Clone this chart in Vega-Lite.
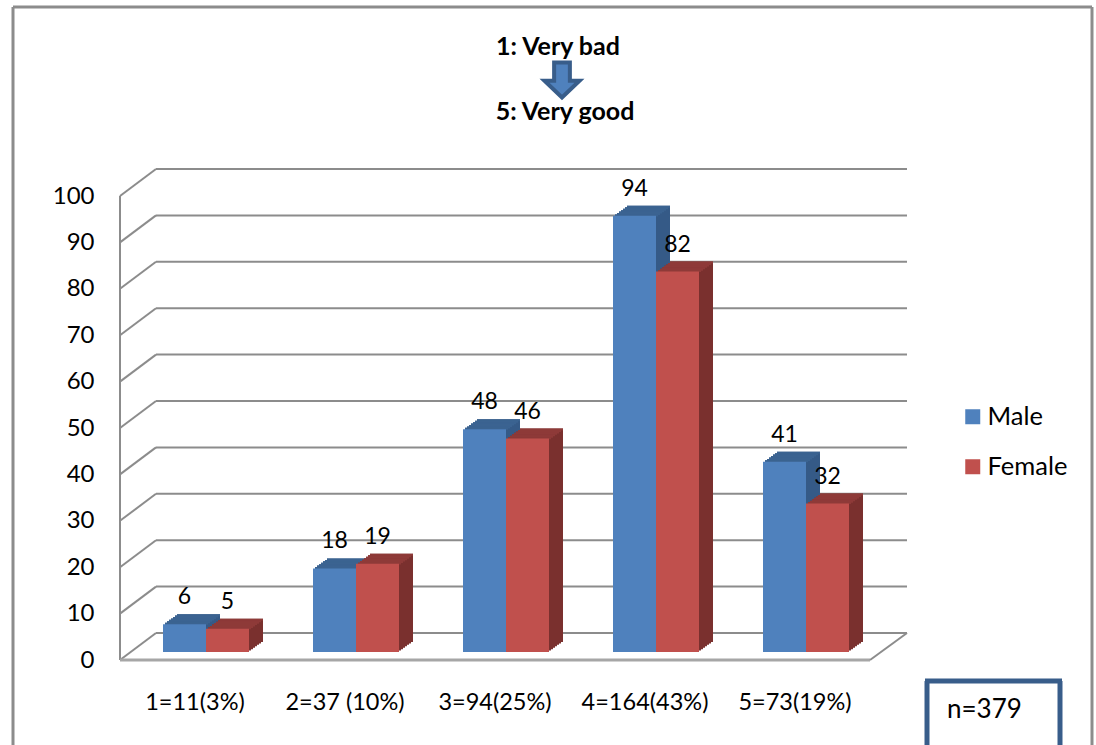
{"$schema":"https://vega.github.io/schema/vega-lite/v6.json","width":750,"height":464,"autosize":"none","padding":{"left":120,"top":188,"right":226,"bottom":93},"background":"white",
"config":{"view":{"stroke":null},"font":"Lato","legend":{"labelFont":"Lato"}},
"resolve":{"scale":{"xOffset":"independent"}},
"datasets":{"bars":[
{"cat":"1=11(3%)","series":"Male","value":6},{"cat":"1=11(3%)","series":"Female","value":5},
{"cat":"2=37 (10%)","series":"Male","value":18},{"cat":"2=37 (10%)","series":"Female","value":19},
{"cat":"3=94(25%)","series":"Male","value":48},{"cat":"3=94(25%)","series":"Female","value":46},
{"cat":"4=164(43%)","series":"Male","value":94},{"cat":"4=164(43%)","series":"Female","value":82},
{"cat":"5=73(19%)","series":"Male","value":41},{"cat":"5=73(19%)","series":"Female","value":32}],
"grid":[{"v":0},{"v":10},{"v":20},{"v":30},{"v":40},{"v":50},{"v":60},{"v":70},{"v":80},{"v":90},{"v":100}]},
"data":{"name":"bars"},
"encoding":{
"x":{"field":"cat","type":"nominal","sort":null,"title":null,"scale":{"domain":["1=11(3%)","2=37 (10%)","3=94(25%)","4=164(43%)","5=73(19%)"],"paddingInner":0,"paddingOuter":0},"axis":{"labelAngle":0,"labelFontSize":23.5,"labelColor":"#000","labelPadding":38,"domain":false,"ticks":false,"labelLimit":200,"labelFont":"Lato"}},
"y":{"field":"value","type":"quantitative","title":null,"scale":{"domain":[0,100],"nice":false},"axis":{"values":[0,10,20,30,40,50,60,70,80,90,100],"grid":false,"domain":false,"ticks":false,"labelFontSize":24,"labelColor":"#000","labelPadding":26,"labelOffset":8,"labelFont":"Lato"}}},
"layer":[
{"data":{"name":"grid"},"mark":{"type":"rule","color":"#8c8c8c","strokeWidth":2,"xOffset":-39,"x2Offset":112,"yOffset":-19},"encoding":{"x":{"datum":"1=11(3%)"},"x2":{"datum":"5=73(19%)"},"y":{"field":"v","type":"quantitative"}}},
{"data":{"name":"grid"},"mark":{"type":"rule","color":"#8c8c8c","strokeWidth":2,"xOffset":-75,"x2Offset":-39,"yOffset":8,"y2Offset":-19},"encoding":{"x":{"datum":"1=11(3%)"},"x2":{"datum":"1=11(3%)"},"y":{"field":"v","type":"quantitative"},"y2":{"field":"v"}}},
{"data":{"values":[{"a":0,"b":100}]},"mark":{"type":"rule","color":"#8c8c8c","strokeWidth":2,"xOffset":-75,"yOffset":8,"y2Offset":8},"encoding":{"x":{"datum":"1=11(3%)"},"y":{"field":"a","type":"quantitative"},"y2":{"field":"b"}}},
{"data":{"values":[{"a":0}]},"mark":{"type":"rule","color":"#a6a6a6","strokeWidth":3,"xOffset":-75,"x2Offset":75,"yOffset":8},"encoding":{"x":{"datum":"1=11(3%)"},"x2":{"datum":"5=73(19%)"},"y":{"field":"a","type":"quantitative"}}},
{"data":{"values":[{"a":0}]},"mark":{"type":"rule","color":"#8c8c8c","strokeWidth":2,"xOffset":75,"x2Offset":112,"yOffset":8,"y2Offset":-19},"encoding":{"x":{"datum":"5=73(19%)"},"x2":{"datum":"5=73(19%)"},"y":{"field":"a","type":"quantitative"},"y2":{"field":"a"}}},
{"data":{"values":[{"a":-25,"b":139}]},"mark":{"type":"rule","color":"#8c8c8c","strokeWidth":3,"xOffset":-182},"encoding":{"x":{"datum":"1=11(3%)"},"y":{"field":"a","type":"quantitative"},"y2":{"field":"b"}}},
{"data":{"values":[{"a":-25,"b":139}]},"mark":{"type":"rule","color":"#8c8c8c","strokeWidth":3,"xOffset":297},"encoding":{"x":{"datum":"5=73(19%)"},"y":{"field":"a","type":"quantitative"},"y2":{"field":"b"}}},
{"data":{"values":[{"b":139}]},"mark":{"type":"rule","color":"#8c8c8c","strokeWidth":3,"xOffset":-182,"x2Offset":297},"encoding":{"x":{"datum":"1=11(3%)"},"x2":{"datum":"5=73(19%)"},"y":{"field":"b","type":"quantitative"}}},

{"mark":{"type":"bar","yOffset":-10,"y2Offset":-10},"encoding":{"xOffset":{"field":"series","scale":{"domain":["Male","Female"],"range":[57,143]}},"y2":{"datum":0},"color":{"condition":{"test":"datum.series==='Male'","value":"#355a87"},"value":"#7a302e"}}},
{"mark":{"type":"bar","yOffset":-8.57,"y2Offset":-8.57},"encoding":{"xOffset":{"field":"series","scale":{"domain":["Male","Female"],"range":[55,141]}},"y2":{"datum":0},"color":{"condition":{"test":"datum.series==='Male'","value":"#355a87"},"value":"#7a302e"}}},
{"mark":{"type":"bar","yOffset":-7.14,"y2Offset":-7.14},"encoding":{"xOffset":{"field":"series","scale":{"domain":["Male","Female"],"range":[53,139]}},"y2":{"datum":0},"color":{"condition":{"test":"datum.series==='Male'","value":"#355a87"},"value":"#7a302e"}}},
{"mark":{"type":"bar","yOffset":-5.71,"y2Offset":-5.71},"encoding":{"xOffset":{"field":"series","scale":{"domain":["Male","Female"],"range":[51,137]}},"y2":{"datum":0},"color":{"condition":{"test":"datum.series==='Male'","value":"#355a87"},"value":"#7a302e"}}},
{"mark":{"type":"bar","yOffset":-4.29,"y2Offset":-4.29},"encoding":{"xOffset":{"field":"series","scale":{"domain":["Male","Female"],"range":[49,135]}},"y2":{"datum":0},"color":{"condition":{"test":"datum.series==='Male'","value":"#355a87"},"value":"#7a302e"}}},
{"mark":{"type":"bar","yOffset":-2.86,"y2Offset":-2.86},"encoding":{"xOffset":{"field":"series","scale":{"domain":["Male","Female"],"range":[47,133]}},"y2":{"datum":0},"color":{"condition":{"test":"datum.series==='Male'","value":"#355a87"},"value":"#7a302e"}}},
{"mark":{"type":"bar","yOffset":-1.43,"y2Offset":-1.43},"encoding":{"xOffset":{"field":"series","scale":{"domain":["Male","Female"],"range":[45,131]}},"y2":{"datum":0},"color":{"condition":{"test":"datum.series==='Male'","value":"#355a87"},"value":"#7a302e"}}},

{"mark":{"type":"bar","yOffset":-10,"y2Offset":-8},"encoding":{"xOffset":{"field":"series","scale":{"domain":["Male","Female"],"range":[57,143]}},"y2":{"field":"value"},"color":{"condition":{"test":"datum.series==='Male'","value":"#3b6391"},"value":"#8e3a38"}}},
{"mark":{"type":"bar","yOffset":-8.57,"y2Offset":-6.57},"encoding":{"xOffset":{"field":"series","scale":{"domain":["Male","Female"],"range":[55,141]}},"y2":{"field":"value"},"color":{"condition":{"test":"datum.series==='Male'","value":"#3b6391"},"value":"#8e3a38"}}},
{"mark":{"type":"bar","yOffset":-7.14,"y2Offset":-5.14},"encoding":{"xOffset":{"field":"series","scale":{"domain":["Male","Female"],"range":[53,139]}},"y2":{"field":"value"},"color":{"condition":{"test":"datum.series==='Male'","value":"#3b6391"},"value":"#8e3a38"}}},
{"mark":{"type":"bar","yOffset":-5.71,"y2Offset":-3.71},"encoding":{"xOffset":{"field":"series","scale":{"domain":["Male","Female"],"range":[51,137]}},"y2":{"field":"value"},"color":{"condition":{"test":"datum.series==='Male'","value":"#3b6391"},"value":"#8e3a38"}}},
{"mark":{"type":"bar","yOffset":-4.29,"y2Offset":-2.29},"encoding":{"xOffset":{"field":"series","scale":{"domain":["Male","Female"],"range":[49,135]}},"y2":{"field":"value"},"color":{"condition":{"test":"datum.series==='Male'","value":"#3b6391"},"value":"#8e3a38"}}},
{"mark":{"type":"bar","yOffset":-2.86,"y2Offset":-0.86},"encoding":{"xOffset":{"field":"series","scale":{"domain":["Male","Female"],"range":[47,133]}},"y2":{"field":"value"},"color":{"condition":{"test":"datum.series==='Male'","value":"#3b6391"},"value":"#8e3a38"}}},
{"mark":{"type":"bar","yOffset":-1.43,"y2Offset":0.57},"encoding":{"xOffset":{"field":"series","scale":{"domain":["Male","Female"],"range":[45,131]}},"y2":{"field":"value"},"color":{"condition":{"test":"datum.series==='Male'","value":"#3b6391"},"value":"#8e3a38"}}},

{"mark":{"type":"bar"},"encoding":{"xOffset":{"field":"series","scale":{"domain":["Male","Female"],"range":[43,129]}},"y2":{"datum":0},"color":{"field":"series","type":"nominal","sort":null,"scale":{"domain":["Male","Female"],"range":["#4f81bd","#c0504d"]},"legend":{"title":null,"orient":"none","legendX":840,"legendY":216,"symbolType":"square","symbolSize":225,"symbolStrokeWidth":0,"symbolOpacity":1,"labelFontSize":25.5,"labelColor":"#000","rowPadding":23,"labelOffset":2}}}},
{"mark":{"type":"text","fontSize":23,"color":"#000","dy":-27,"font":"Lato"},"encoding":{"xOffset":{"field":"series","scale":{"domain":["Male","Female"],"range":[43,129]}},"text":{"field":"value","type":"quantitative"}}},

{"data":{"values":[{"label":"1: Very bad","level":130.3}]},"mark":{"type":"text","fontSize":25,"fontWeight":"bold","color":"#000","xOffset":63,"font":"Lato"},"encoding":{"x":{"datum":"3=94(25%)"},"y":{"field":"level","type":"quantitative"},"text":{"field":"label","type":"nominal"}}},
{"data":{"values":[{"label":"5: Very good","level":116.3}]},"mark":{"type":"text","fontSize":25,"fontWeight":"bold","color":"#000","xOffset":70,"font":"Lato"},"encoding":{"x":{"datum":"3=94(25%)"},"y":{"field":"level","type":"quantitative"},"text":{"field":"label","type":"nominal"}}},
{"data":{"values":[{"label":"arrow","level":123.3}]},"mark":{"type":"point","filled":true,"shape":"M-0.45,-1 L0.45,-1 L0.45,0.05 L1,0.05 L0,1 L-1,0.05 L-0.45,0.05 Z","size":1225,"fill":"#4f81bd","stroke":"#385d8a","strokeWidth":4,"opacity":1,"xOffset":67},"encoding":{"x":{"datum":"3=94(25%)"},"y":{"field":"level","type":"quantitative"}}},

{"data":{"values":[{"a":-25,"b":-6.25}]},"mark":{"type":"rule","color":"#385d8a","strokeWidth":5,"xOffset":132},"encoding":{"x":{"datum":"5=73(19%)"},"y":{"field":"a","type":"quantitative"},"y2":{"field":"b"}}},
{"data":{"values":[{"a":-25,"b":-6.25}]},"mark":{"type":"rule","color":"#385d8a","strokeWidth":5,"xOffset":265},"encoding":{"x":{"datum":"5=73(19%)"},"y":{"field":"a","type":"quantitative"},"y2":{"field":"b"}}},
{"data":{"values":[{"b":-6.25}]},"mark":{"type":"rule","color":"#385d8a","strokeWidth":5,"xOffset":130,"x2Offset":267},"encoding":{"x":{"datum":"5=73(19%)"},"x2":{"datum":"5=73(19%)"},"y":{"field":"b","type":"quantitative"}}},
{"data":{"values":[{"label":"n=379","level":-12.5}]},"mark":{"type":"text","fontSize":26,"color":"#000","align":"left","xOffset":152,"font":"Lato"},"encoding":{"x":{"datum":"5=73(19%)"},"y":{"field":"level","type":"quantitative"},"text":{"field":"label","type":"nominal"}}}
]}
